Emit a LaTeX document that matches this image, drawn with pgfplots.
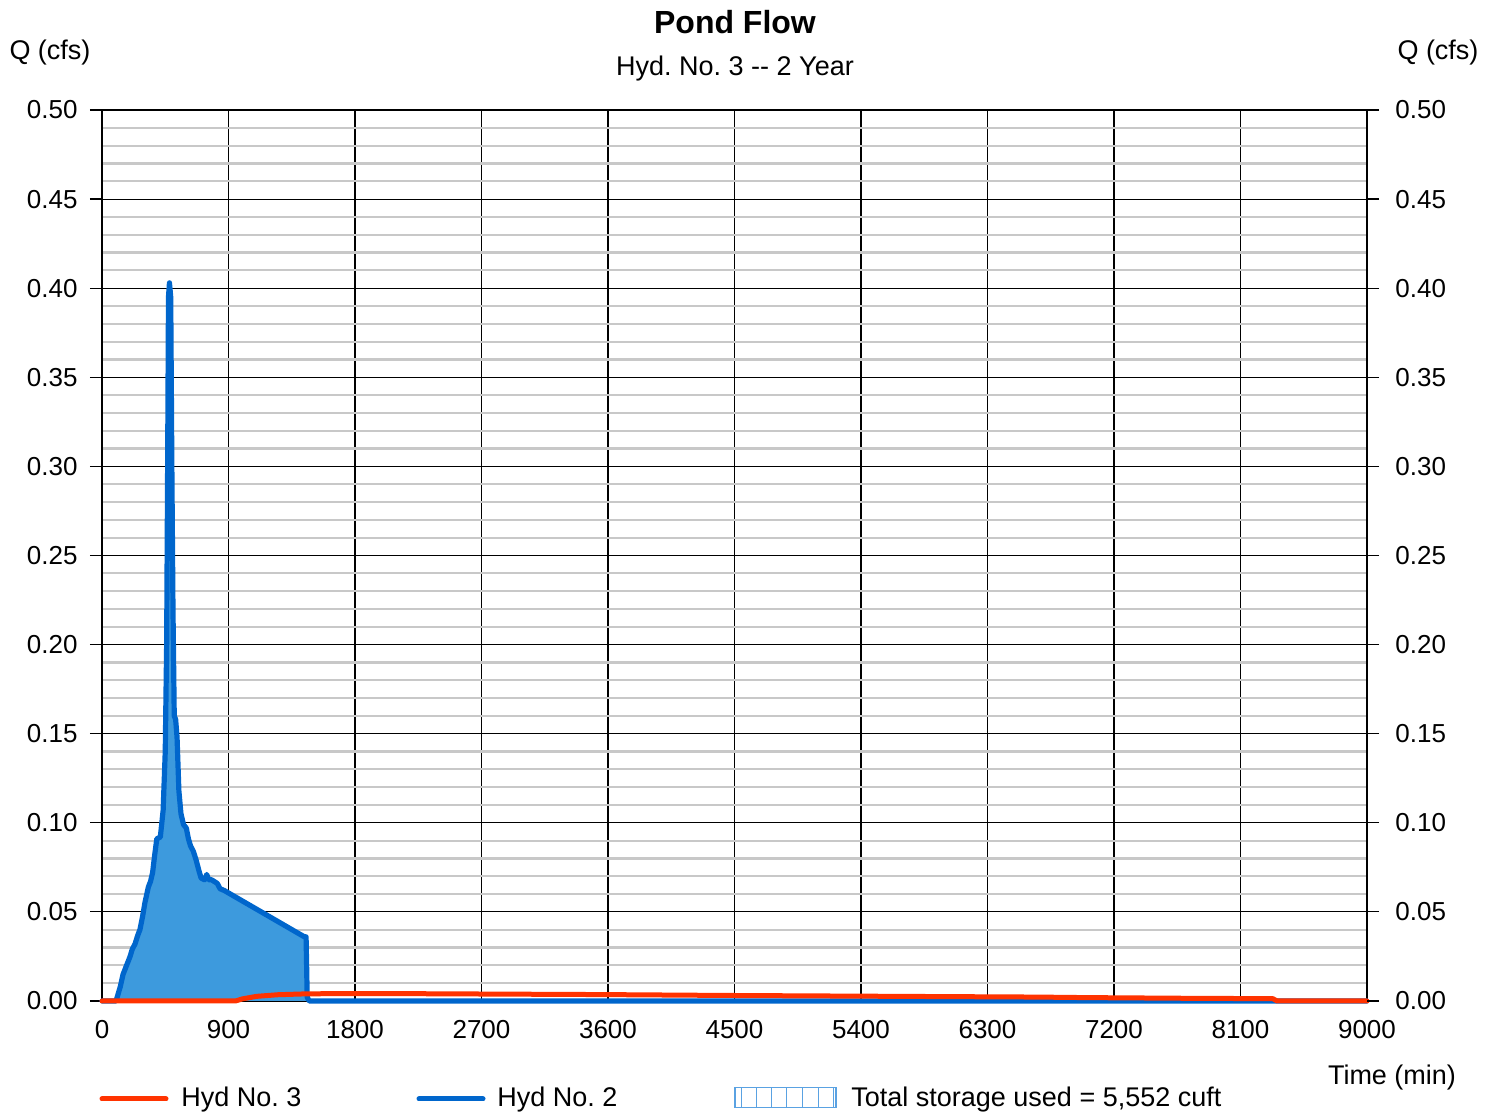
\documentclass[border=0pt]{standalone}
\usepackage{fontspec}
\setmainfont{Liberation Sans}
\usepackage{pgfplots}
\pgfplotsset{compat=1.18}

\definecolor{hydred}{HTML}{FF3300}
\definecolor{hydblue}{HTML}{0066CC}
\definecolor{storefill}{HTML}{3D9ADD}
\definecolor{hatchblue}{HTML}{5AA2E2}
\definecolor{minorgray}{HTML}{C8C8C8}

\newcommand{\lbl}{\fontsize{13}{15.6}\selectfont}
\newcommand{\captxt}{\fontsize{13.5}{16}\selectfont}

\pgfplotsset{
  pondbase/.style={
    at={(51pt,55.5pt)}, anchor=south west,
    scale only axis, width=632.5pt, height=445.5pt,
    xmin=0, xmax=9000, ymin=0, ymax=0.5,
    ytick={0,0.05,0.10,0.15,0.20,0.25,0.30,0.35,0.40,0.45,0.50},
    tick align=outside, major tick length=6pt,
    tick style={black, line width=0.6pt},
    yticklabel style={font=\lbl,
      /pgf/number format/fixed,
      /pgf/number format/fixed zerofill,
      /pgf/number format/precision=2},
    /pgf/number format/assume math mode=true,
  },
}

\begin{document}
\frenchspacing
\begin{tikzpicture}
\useasboundingbox (0,0) rectangle (748pt,556pt);

% main axis: grid, x ticks, left y ticks, hydrographs
\begin{axis}[pondbase,
  xtick={0,900,1800,2700,3600,4500,5400,6300,7200,8100,9000},
  xticklabel style={font=\lbl, /pgf/number format/1000 sep={}},
  xtick style={draw=none},
  ytick pos=left,
  minor y tick num=4, minor tick length=0pt,
  xmajorgrids, ymajorgrids, yminorgrids,
  major grid style={black, line width=0.55pt},
  minor grid style={minorgray, line width=1.1pt},
  axis line style={black, line width=0.6pt},
  yticklabel style={anchor=east, xshift=-2.7pt},
  clip=false,
]
% storage volume under the inflow hydrograph
\addplot[draw=none, fill=storefill] coordinates {
(0,0) (100,0) (130,0.008) (150,0.015) (175,0.020) (200,0.025) (215,0.029)
(235,0.032) (255,0.037) (270,0.040) (290,0.048) (305,0.055) (330,0.064)
(345,0.067) (360,0.072) (375,0.082) (390,0.091) (415,0.092)
(435,0.107) (450,0.140) (460,0.200) (467,0.300) (473,0.395) (480,0.403)
(489,0.395) (497,0.300) (505,0.220) (514,0.160) (524,0.158) (534,0.148)
(547,0.118) (562,0.105) (580,0.099) (600,0.097) (615,0.091) (630,0.087)
(650,0.084) (670,0.079) (690,0.073) (705,0.069) (730,0.068) (745,0.071)
(760,0.068) (780,0.068) (800,0.067) (820,0.066) (840,0.063) (870,0.062)
(1440,0.036) (1452,0.036) (1460,0.002) (1465,0)
} \closedcycle;
% Hyd No. 2 (inflow)
\addplot[hydblue, line width=2.6pt, line join=round, line cap=round] coordinates {
(0,0) (100,0) (130,0.008) (150,0.015) (175,0.020) (200,0.025) (215,0.029)
(235,0.032) (255,0.037) (270,0.040) (290,0.048) (305,0.055) (330,0.064)
(345,0.067) (360,0.072) (375,0.082) (390,0.091) (415,0.092)
(435,0.107) (450,0.140) (460,0.200) (467,0.300) (473,0.395) (480,0.403)
(489,0.395) (497,0.300) (505,0.220) (514,0.160) (524,0.158) (534,0.148)
(547,0.118) (562,0.105) (580,0.099) (600,0.097) (615,0.091) (630,0.087)
(650,0.084) (670,0.079) (690,0.073) (705,0.069) (730,0.068) (745,0.071)
(760,0.068) (780,0.068) (800,0.067) (820,0.066) (840,0.063) (870,0.062)
(1440,0.036) (1452,0.036) (1460,0.002) (1475,0) (9000,0)
};
% Hyd No. 3 (outflow)
\addplot[hydred, line width=2.5pt, line join=round, line cap=round] coordinates {
(0,0) (950,0) (1000,0.0012) (1100,0.0026) (1250,0.0035) (1450,0.0040)
(1800,0.0042) (2200,0.0041) (3000,0.0038) (3550,0.0036) (4450,0.0031)
(5900,0.0025) (6650,0.0022) (7000,0.0019) (7740,0.0015) (8330,0.0013)
(8360,0) (9000,0)
};
\end{axis}

% companion axis carrying the right-hand scale
\begin{axis}[pondbase,
  hide x axis,
  axis y line*=right,
  axis line style={draw=none},
  yticklabel style={anchor=west, xshift=4.7pt},
]
\addplot[draw=none] coordinates {(0,0) (9000,0.5)};
\end{axis}

% titles and axis captions
\node[font=\fontsize{16}{19}\selectfont\bfseries] at (367.5pt,545pt) {Pond Flow};
\node[font=\captxt] at (367.5pt,521.5pt) {Hyd. No. 3 -{}- 2 Year};
\node[font=\captxt] at (25pt,529.5pt) {Q (cfs)};
\node[font=\captxt] at (719pt,529.5pt) {Q (cfs)};
\node[font=\captxt] at (696pt,17pt) {Time (min)};

% legend
\draw[hydred, line width=2.5pt, line cap=round] (51pt,6.5pt) -- (83pt,6.5pt);
\node[font=\captxt, anchor=west, inner sep=0pt] at (90.5pt,6pt) {Hyd No. 3};
\draw[hydblue, line width=2.5pt, line cap=round] (209.5pt,6.5pt) -- (241.5pt,6.5pt);
\node[font=\captxt, anchor=west, inner sep=0pt] at (248.5pt,6pt) {Hyd No. 2};
\draw[hatchblue, line width=0.7pt] (367.5pt,2.2pt) rectangle (418pt,12.2pt);
\foreach \hx in {370.8,378.3,385.8,393.3,401.1,409.1,416.6}
  \draw[hatchblue, line width=0.7pt] (\hx pt,2.2pt) -- (\hx pt,12.2pt);
\node[font=\captxt, anchor=west, inner sep=0pt] at (425.5pt,6pt) {Total storage used = 5,552 cuft};
\end{tikzpicture}
\end{document}
